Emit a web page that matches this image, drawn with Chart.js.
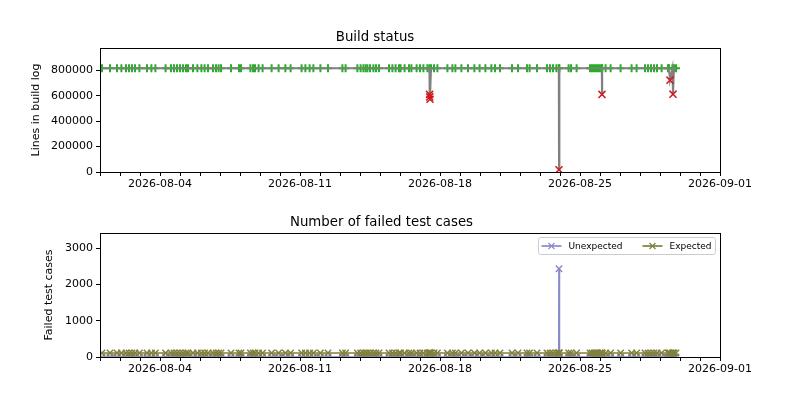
<!DOCTYPE html>
<html>
<head>
<meta charset="utf-8">
<script src="https://cdn.jsdelivr.net/npm/chart.js@4/dist/chart.umd.min.js"></script>
<style>
  html, body { margin: 0; padding: 0; background: #fff; }
  canvas { display: block; }
</style>
</head>
<body>
<canvas id="buildChart" width="800" height="200"></canvas>
<canvas id="testChart" width="800" height="200"></canvas>
<script>
// days since 2026-08-01 00:00 for each build
const buildDays = [
  0.10, 0.50, 0.85, 1.07, 1.30, 1.45, 1.60, 1.75, 1.97, 2.35,
  2.57, 2.77, 3.28, 3.55, 3.70, 3.85, 4.00, 4.15, 4.30, 4.40,
  4.65, 4.87, 5.07, 5.23, 5.40, 5.65, 5.80, 5.93, 6.05, 6.55,
  6.95, 7.05, 7.52, 7.65, 7.75, 7.93, 8.13, 8.58, 8.93, 9.27,
  9.53, 10.08, 10.27, 10.48, 10.67, 11.02, 11.40, 12.12, 12.28, 12.87,
  13.03, 13.17, 13.28, 13.37, 13.50, 13.67, 13.80, 13.95, 14.45, 14.62,
  14.78, 14.95, 15.03, 15.23, 15.45, 15.57, 15.83, 16.00, 16.17, 16.37,
  16.47, 16.48, 16.49, 16.50, 16.55, 16.70, 16.87, 17.37, 17.62, 17.77,
  18.07, 18.40, 18.72, 18.98, 19.27, 19.57, 19.75, 20.00, 20.60, 20.90,
  21.35, 21.48, 21.85, 22.35, 22.50, 22.65, 22.82, 22.94, 22.95, 22.97,
  23.43, 23.55, 23.83, 24.50, 24.60, 24.70, 24.80, 24.90, 25.00, 25.09,
  25.10, 25.11, 25.28, 25.53, 26.03, 26.58, 26.83, 27.25, 27.40, 27.55,
  27.70, 27.85, 28.08, 28.40, 28.45, 28.50, 28.62, 28.65, 28.70, 28.80
]
const logLines = [
  815000, 815000, 815000, 815000, 815000, 815000, 815000, 815000, 815000, 815000,
  815000, 815000, 815000, 815000, 815000, 815000, 815000, 815000, 815000, 815000,
  815000, 815000, 815000, 815000, 815000, 815000, 815000, 815000, 815000, 815000,
  815000, 815000, 815000, 815000, 815000, 815000, 815000, 815000, 815000, 815000,
  815000, 815000, 815000, 815000, 815000, 815000, 815000, 815000, 815000, 815000,
  815000, 815000, 815000, 815000, 815000, 815000, 815000, 815000, 815000, 815000,
  815000, 815000, 815000, 815000, 815000, 815000, 815000, 815000, 815000, 815000,
  815000, 610000, 590000, 572000, 815000, 815000, 815000, 815000, 815000, 815000,
  815000, 815000, 815000, 815000, 815000, 815000, 815000, 815000, 815000, 815000,
  815000, 815000, 815000, 815000, 815000, 815000, 815000, 815000, 18000, 815000,
  815000, 815000, 815000, 815000, 815000, 815000, 815000, 815000, 815000, 815000,
  610000, 815000, 815000, 815000, 815000, 815000, 815000, 815000, 815000, 815000,
  815000, 815000, 815000, 815000, 815000, 722000, 815000, 612000, 815000, 815000
]
const buildOk = [
  1, 1, 1, 1, 1, 1, 1, 1, 1, 1,
  1, 1, 1, 1, 1, 1, 1, 1, 1, 1,
  1, 1, 1, 1, 1, 1, 1, 1, 1, 1,
  1, 1, 1, 1, 1, 1, 1, 1, 1, 1,
  1, 1, 1, 1, 1, 1, 1, 1, 1, 1,
  1, 1, 1, 1, 1, 1, 1, 1, 1, 1,
  1, 1, 1, 1, 1, 1, 1, 1, 1, 1,
  1, 0, 0, 0, 1, 1, 1, 1, 1, 1,
  1, 1, 1, 1, 1, 1, 1, 1, 1, 1,
  1, 1, 1, 1, 1, 1, 1, 1, 0, 1,
  1, 1, 1, 1, 1, 1, 1, 1, 1, 1,
  0, 1, 1, 1, 1, 1, 1, 1, 1, 1,
  1, 1, 1, 1, 1, 0, 1, 0, 1, 1
]
const unexpectedFails = [
  0, 0, 0, 0, 0, 0, 0, 0, 0, 0,
  0, 0, 0, 0, 0, 0, 0, 0, 0, 0,
  0, 0, 0, 0, 0, 0, 0, 0, 0, 0,
  0, 0, 0, 0, 0, 0, 0, 0, 0, 0,
  0, 0, 0, 0, 0, 0, 0, 0, 0, 0,
  0, 0, 0, 0, 0, 0, 0, 0, 0, 0,
  0, 0, 0, 0, 0, 0, 0, 0, 0, 0,
  0, 0, 0, 0, 0, 0, 0, 0, 0, 0,
  0, 0, 0, 0, 0, 0, 0, 0, 0, 0,
  0, 0, 0, 0, 0, 0, 0, 0, 2430, 0,
  0, 0, 0, 0, 0, 0, 0, 0, 0, 0,
  0, 0, 0, 0, 0, 0, 0, 0, 0, 0,
  0, 0, 0, 0, 0, 0, 0, 0, 0, 0
]
const expectedFails = [
  110, 110, 110, 110, 110, 110, 110, 110, 110, 110,
  110, 110, 110, 110, 110, 110, 110, 110, 110, 110,
  110, 110, 110, 110, 110, 110, 110, 110, 110, 110,
  110, 110, 110, 110, 110, 110, 110, 110, 110, 110,
  110, 110, 110, 110, 110, 110, 110, 110, 110, 110,
  110, 110, 110, 110, 110, 110, 110, 110, 110, 110,
  110, 110, 110, 110, 110, 110, 110, 110, 110, 110,
  110, 110, 110, 110, 110, 110, 110, 110, 110, 110,
  110, 110, 110, 110, 110, 110, 110, 110, 110, 110,
  110, 110, 110, 110, 110, 110, 110, 110, 110, 110,
  110, 110, 110, 110, 110, 110, 110, 110, 110, 110,
  110, 110, 110, 110, 110, 110, 110, 110, 110, 110,
  110, 110, 110, 110, 110, 110, 110, 110, 110, 110
]
const xLabelDays = [3, 10, 17, 24, 31]  // 08-04 ... 09-01
const buildYTicks = [0, 200000, 400000, 600000, 800000]
const testYTicks = [0, 1000, 2000, 3000]

const FONT = 'DejaVu Sans'
const startMs = Date.UTC(2026, 7, 1)

function dayLabel (v) {
  return new Date(startMs + v * 86400000).toISOString().slice(0, 10)
}

function points (ys, keep) {
  const out = []
  buildDays.forEach((d, i) => {
    if (!keep || keep(i)) out.push({ x: d, y: ys[i] })
  })
  return out
}

function xScale (h) {
  return {
    type: 'linear',
    min: 0,
    max: 31,
    afterFit: s => { s.height = h },
    grid: { drawOnChartArea: false, drawTicks: true, tickLength: 4, color: '#000' },
    border: { display: false },
    ticks: {
      stepSize: 1,
      autoSkip: false,
      maxRotation: 0,
      minRotation: 0,
      padding: 2,
      color: '#000',
      font: { family: FONT, size: 11 },
      callback: v => xLabelDays.includes(Math.round(v)) ? dayLabel(v) : ''
    }
  }
}

function yScale (max, tickValues, width, title) {
  return {
    min: 0,
    max: max,
    afterFit: s => { s.width = width },
    afterBuildTicks: s => { s.ticks = tickValues.map(v => ({ value: v })) },
    grid: { drawOnChartArea: false, drawTicks: true, tickLength: 4, color: '#000' },
    border: { display: false },
    title: { display: true, text: title, color: '#000', font: { family: FONT, size: 11 }, padding: { top: 0, bottom: 4 } },
    ticks: {
      padding: 3,
      color: '#000',
      font: { family: FONT, size: 11 },
      callback: v => String(v)
    }
  }
}

// full axes box like matplotlib spines
const frame = {
  id: 'frame',
  afterDraw (chart) {
    const a = chart.chartArea
    const ctx = chart.ctx
    ctx.save()
    ctx.strokeStyle = '#000'
    ctx.lineWidth = 1
    ctx.strokeRect(Math.round(a.left) + 0.5, Math.round(a.top) + 0.5, Math.round(a.right - a.left), Math.round(a.bottom - a.top))
    ctx.restore()
  }
}

// legend box in the upper right corner of the plot
const boxLegend = {
  id: 'boxLegend',
  afterDraw (chart) {
    const a = chart.chartArea
    const ctx = chart.ctx
    const items = chart.data.datasets
    ctx.save()
    ctx.font = '9px "' + FONT + '"'
    let w = 4
    items.forEach((ds, i) => { w += 27 + ctx.measureText(ds.label).width + (i < items.length - 1 ? 20 : 3) })
    const h = 17
    const left = Math.round(a.right - 5 - w) + 0.5
    const top = Math.round(a.top + 4) + 0.5
    ctx.beginPath()
    ctx.roundRect(left, top, w, h, 2)
    ctx.fillStyle = 'rgba(255,255,255,0.8)'
    ctx.fill()
    ctx.strokeStyle = '#cccccc'
    ctx.lineWidth = 1
    ctx.stroke()
    let x = left + 3
    const cy = top + h / 2
    items.forEach(ds => {
      ctx.strokeStyle = ds.borderColor
      ctx.lineWidth = 1.7
      ctx.beginPath()
      ctx.moveTo(x, cy)
      ctx.lineTo(x + 20, cy)
      ctx.stroke()
      ctx.beginPath()
      ctx.moveTo(x + 7, cy - 3); ctx.lineTo(x + 13, cy + 3)
      ctx.moveTo(x + 7, cy + 3); ctx.lineTo(x + 13, cy - 3)
      ctx.lineWidth = 1.2
      ctx.stroke()
      ctx.fillStyle = '#000'
      ctx.textBaseline = 'middle'
      ctx.fillText(ds.label, x + 27, cy + 0.5)
      x += 27 + ctx.measureText(ds.label).width + 20
    })
    ctx.restore()
  }
}

new Chart(document.getElementById('buildChart'), {
  type: 'line',
  data: {
    datasets: [
      {
        label: 'Build',
        data: points(logLines),
        borderColor: '#808080',
        borderWidth: 2,
        pointRadius: 0,
        tension: 0,
        order: 2
      },
      {
        label: 'Success',
        data: points(logLines, i => buildOk[i] === 1),
        showLine: false,
        pointStyle: 'cross',
        pointRadius: 4,
        pointBorderWidth: 2,
        pointBorderColor: '#1fb31f',
        borderColor: '#1fb31f',
        order: 3
      },
      {
        label: 'Failure',
        data: points(logLines, i => buildOk[i] === 0),
        showLine: false,
        pointStyle: 'crossRot',
        pointRadius: 5,
        pointBorderWidth: 1.5,
        pointBorderColor: '#d11a1a',
        borderColor: '#d11a1a',
        order: 1
      }
    ]
  },
  options: {
    responsive: false,
    animation: false,
    devicePixelRatio: 1,
    layout: { padding: { left: 30, right: 80, top: 0, bottom: 0 } },
    plugins: {
      legend: { display: false },
      tooltip: { enabled: false },
      title: {
        display: true,
        text: 'Build status',
        color: '#000',
        font: { family: FONT, size: 13.3, weight: 'normal' },
        padding: { top: 30, bottom: 2 }
      }
    },
    scales: {
      x: xScale(28),
      y: yScale(975000, buildYTicks, 70, 'Lines in build log')
    }
  },
  plugins: [frame]
})

new Chart(document.getElementById('testChart'), {
  type: 'line',
  data: {
    datasets: [
      {
        label: 'Unexpected',
        data: points(unexpectedFails),
        borderColor: '#8a8ac9',
        borderWidth: 1.7,
        pointStyle: 'crossRot',
        pointRadius: 4.5,
        pointBorderWidth: 1.5,
        pointBorderColor: '#8a8ac9',
        tension: 0,
        order: 2
      },
      {
        label: 'Expected',
        data: points(expectedFails),
        borderColor: '#80803e',
        borderWidth: 1.7,
        pointStyle: 'crossRot',
        pointRadius: 4.5,
        pointBorderWidth: 1.5,
        pointBorderColor: '#80803e',
        tension: 0,
        order: 1
      }
    ]
  },
  options: {
    responsive: false,
    animation: false,
    devicePixelRatio: 1,
    layout: { padding: { left: 43, right: 80, top: 0, bottom: 0 } },
    plugins: {
      legend: { display: false },
      tooltip: { enabled: false },
      title: {
        display: true,
        text: 'Number of failed test cases',
        color: '#000',
        font: { family: FONT, size: 13.3, weight: 'normal' },
        padding: { top: 15, bottom: 2 }
      }
    },
    scales: {
      x: xScale(43),
      y: yScale(3415, testYTicks, 57, 'Failed test cases')
    }
  },
  plugins: [frame, boxLegend]
})
</script>
</body>
</html>
